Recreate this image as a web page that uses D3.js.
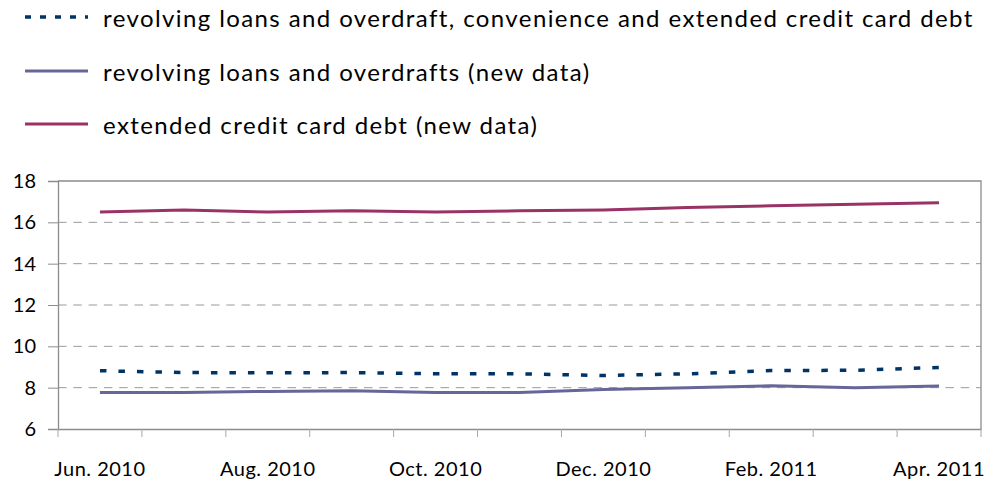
<!DOCTYPE html>
<html>
<head>
<meta charset="utf-8">
<script src="https://cdn.jsdelivr.net/npm/d3@7"></script>
<style>
  body { margin: 0; background: #fff; }
  text { font-family: Lato, "Open Sans", sans-serif; fill: #000; }
</style>
</head>
<body>
<svg width="1003" height="484"></svg>
<script>
// dati (mesi, valori delle tre serie)
const months = ["Jun. 2010", "Jul. 2010", "Aug. 2010", "Sep. 2010", "Oct. 2010", "Nov. 2010",
  "Dec. 2010", "Jan. 2011", "Feb. 2011", "Mar. 2011", "Apr. 2011"];
const combined = [8.82, 8.73, 8.72, 8.73, 8.67, 8.67, 8.59, 8.67, 8.83, 8.84, 8.98];
const revolving = [7.77, 7.77, 7.82, 7.85, 7.77, 7.77, 7.91, 8.0, 8.09, 7.99, 8.08];
const extended = [16.5, 16.6, 16.5, 16.56, 16.5, 16.56, 16.6, 16.72, 16.8, 16.88, 16.95];
const yTicks = [6, 8, 10, 12, 14, 16, 18];
const legendLabels = [
  "revolving loans and overdraft, convenience and extended credit card debt",
  "revolving loans and overdrafts (new data)",
  "extended credit card debt (new data)"
];

const svg = d3.select("svg");
const mLeft = 58, mRight = 981, mTop = 181, mBottom = 429;

const x = d3.scaleBand().domain(months).range([mLeft, mRight]);
const y = d3.scaleLinear().domain([6, 18]).range([mBottom, mTop]);

const series = [
  { name: legendLabels[0], values: combined, color: "#003366", width: 3.5, dash: "6.5,12" },
  { name: legendLabels[1], values: revolving, color: "#666699", width: 3, dash: null },
  { name: legendLabels[2], values: extended, color: "#993366", width: 3, dash: null }
];

// griglia tratteggiata
svg.append("g")
  .selectAll("line")
  .data(yTicks.filter(d => d > 6 && d < 18))
  .join("line")
  .attr("x1", mLeft).attr("x2", mRight)
  .attr("y1", d => y(d)).attr("y2", d => y(d))
  .attr("stroke", "#9a9a9a")
  .attr("stroke-dasharray", "8.5,6.8");

// cornice in alto e a destra
svg.append("path")
  .attr("d", `M${mLeft},${y(18)}H${mRight}V${mBottom}`)
  .attr("fill", "none")
  .attr("stroke", "#8c8c8c")
  .attr("stroke-width", 1.3);

// asse y
const yAxis = svg.append("g")
  .attr("transform", `translate(${mLeft},0)`)
  .call(d3.axisLeft(y).tickValues(yTicks).tickSize(10).tickPadding(12));
yAxis.selectAll("text").style("font-size", "20px");

// asse x, tacche sui bordi delle categorie
const xAxis = svg.append("g")
  .attr("transform", `translate(0,${mBottom})`)
  .call(d3.axisBottom(x).tickSize(0).tickPadding(31)
    .tickFormat((d, i) => i % 2 === 0 ? d : ""));
xAxis.selectAll("text")
  .style("font-size", "20px")
  .style("letter-spacing", "0.5px")
  .attr("dy", "0.78em");
xAxis.append("g")
  .selectAll("line")
  .data(months.map(m => x(m)).concat([mRight]))
  .join("line")
  .attr("x1", d => d).attr("x2", d => d)
  .attr("y1", 0).attr("y2", 8)
  .attr("stroke", "#a8a8a8");

svg.selectAll(".domain").attr("stroke", "#8c8c8c").attr("stroke-width", 1.3);
yAxis.selectAll(".tick line").attr("stroke", "#8c8c8c");

// linee
const line = d3.line()
  .x((d, i) => x(months[i]) + x.bandwidth() / 2)
  .y(d => y(d));

svg.append("g")
  .selectAll("path")
  .data(series)
  .join("path")
  .attr("d", d => line(d.values))
  .attr("fill", "none")
  .attr("stroke", d => d.color)
  .attr("stroke-width", d => d.width)
  .attr("stroke-dasharray", d => d.dash);

// legenda
const legend = svg.append("g")
  .selectAll("g")
  .data(series)
  .join("g")
  .attr("transform", (d, i) => `translate(0,${[17, 71, 124][i]})`);

legend.append("line")
  .attr("x1", 25).attr("x2", 88)
  .attr("stroke", d => d.color)
  .attr("stroke-width", d => d.width)
  .attr("stroke-dasharray", d => d.dash ? "6,9" : null);

legend.append("text")
  .attr("x", 103)
  .attr("y", 10)
  .style("font-size", "24px")
  .style("letter-spacing", "1.4px")
  .text(d => d.name);
</script>
</body>
</html>
